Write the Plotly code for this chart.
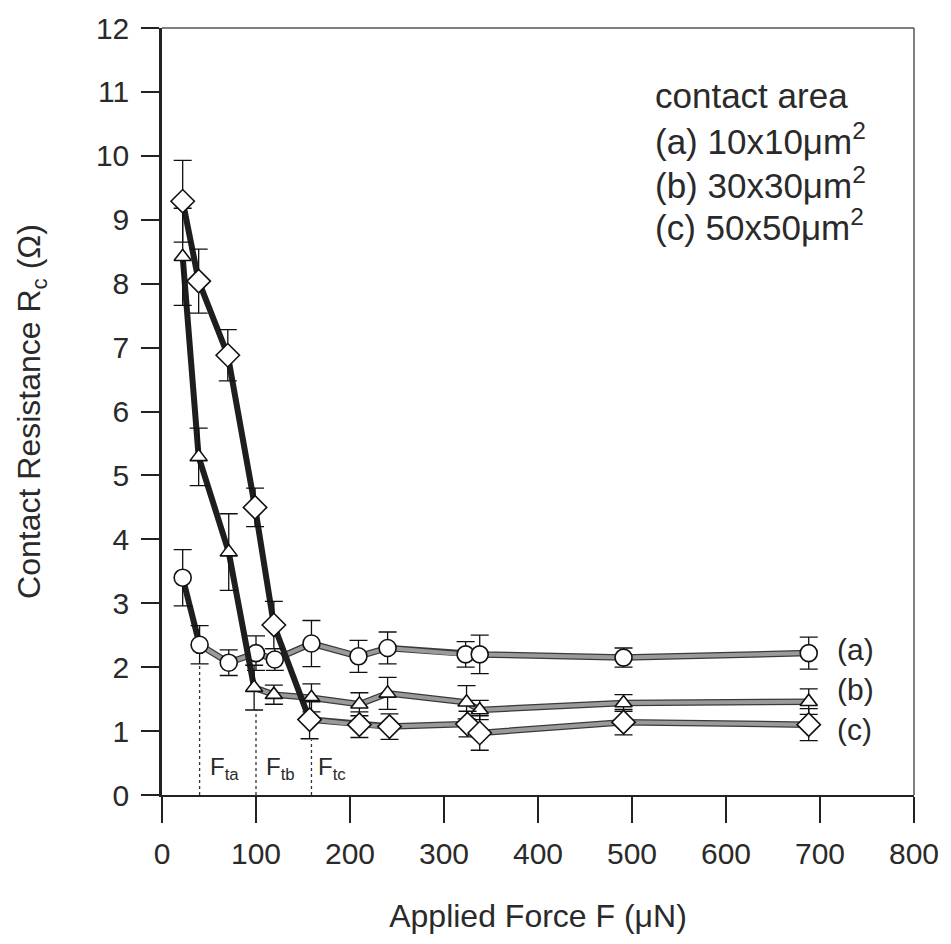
import plotly.graph_objects as go

# ---- data ----
# (a) 10x10 um^2  (circles)
xa = [22, 40, 71, 100, 120, 159, 209, 240, 323, 338, 491, 688]
ya = [3.40, 2.35, 2.07, 2.22, 2.12, 2.37, 2.17, 2.30, 2.20, 2.20, 2.15, 2.22]
ea = [0.44, 0.30, 0.20, 0.27, 0.17, 0.36, 0.25, 0.25, 0.20, 0.30, 0.15, 0.25]
# (b) 30x30 um^2  (triangles)
xb = [22, 39, 71, 98, 119, 159, 210, 240, 324, 338, 491, 688]
yb = [8.42, 5.29, 3.80, 1.68, 1.57, 1.52, 1.42, 1.59, 1.45, 1.33, 1.44, 1.46]
eb = [0.76, 0.45, 0.60, 0.35, 0.15, 0.22, 0.18, 0.25, 0.26, 0.15, 0.13, 0.20]
# (c) 50x50 um^2  (diamonds)
xc = [22, 39, 70, 99, 119, 157, 210, 242, 325, 338, 491, 688]
yc = [9.29, 8.04, 6.88, 4.50, 2.66, 1.18, 1.10, 1.07, 1.11, 0.97, 1.14, 1.10]
ec = [0.64, 0.50, 0.40, 0.30, 0.37, 0.30, 0.20, 0.20, 0.20, 0.27, 0.20, 0.25]
# index where the steep (dark) part ends for each series
knee_a, knee_b, knee_c = 1, 3, 5

# threshold forces F_t and heights of their dotted markers
ft_x = [40, 100, 159]
ft_top = [2.06, 1.33, 0.86]
ft_labels = ["F<sub>ta</sub>", "F<sub>tb</sub>", "F<sub>tc</sub>"]
ft_label_x = [66, 126, 181]

series_labels = ["(a)", "(b)", "(c)"]
series_label_y = [2.27, 1.65, 1.02]

legend_lines = ["contact area", "(a) 10x10\u03bcm<sup>2</sup>",
                "(b) 30x30\u03bcm<sup>2</sup>", "(c) 50x50\u03bcm<sup>2</sup>"]
legend_y = [10.94, 10.27, 9.58, 8.92]

x_ticks = [0, 100, 200, 300, 400, 500, 600, 700, 800]
y_ticks = list(range(0, 13))

FONT = "Liberation Sans, Arial, sans-serif"
TXT = "#2a2a2a"
DARK = "#1e1e1e"
GRAY = "#9a9a9a"

fig = go.Figure()

# dotted threshold lines
for fx, ft in zip(ft_x, ft_top):
    fig.add_trace(go.Scatter(x=[fx, fx], y=[0, ft], mode="lines",
                             line=dict(color="#333", width=1.3, dash="dot"),
                             showlegend=False, hoverinfo="skip"))

def add_series(x, y, e, knee, symbol, size):
    # gray part: dark edge under a gray core
    xs, ys = x[knee:], y[knee:]
    fig.add_trace(go.Scatter(x=xs, y=ys, mode="lines",
                             line=dict(color="#3a3a3a", width=6.5),
                             showlegend=False, hoverinfo="skip"))
    fig.add_trace(go.Scatter(x=xs, y=ys, mode="lines",
                             line=dict(color=GRAY, width=4),
                             showlegend=False, hoverinfo="skip"))
    # dark steep part
    fig.add_trace(go.Scatter(x=x[:knee + 1], y=y[:knee + 1], mode="lines",
                             line=dict(color=DARK, width=6),
                             showlegend=False, hoverinfo="skip"))
    # markers with error bars
    fig.add_trace(go.Scatter(x=x, y=y, mode="markers",
                             marker=dict(symbol=symbol, size=size, color="white",
                                         line=dict(color="#111", width=1.6)),
                             error_y=dict(type="data", array=e, visible=True,
                                          color="#111", thickness=1.3, width=9),
                             showlegend=False))

add_series(xa, ya, ea, knee_a, "circle", 17)
add_series(xb, yb, eb, knee_b, "triangle-up", 15)
add_series(xc, yc, ec, knee_c, "diamond", 18)

ann = []
for t, y in zip(legend_lines, legend_y):
    ann.append(dict(x=522, y=y, xref="x", yref="y", text=t, showarrow=False,
                    xanchor="left", yanchor="middle",
                    font=dict(family=FONT, size=35, color=TXT)))
for t, y in zip(series_labels, series_label_y):
    ann.append(dict(x=716, y=y, xref="x", yref="y", text=t, showarrow=False,
                    xanchor="left", yanchor="middle",
                    font=dict(family=FONT, size=30, color=TXT)))
for t, x in zip(ft_labels, ft_label_x):
    ann.append(dict(x=x, y=0.42, xref="x", yref="y", text=t, showarrow=False,
                    xanchor="center", yanchor="middle",
                    font=dict(family=FONT, size=24, color=TXT)))

fig.update_layout(
    width=951, height=944,
    margin=dict(l=162, r=37, t=28, b=149),
    paper_bgcolor="white", plot_bgcolor="white",
    annotations=ann,
    shapes=[
        dict(type="line", xref="paper", yref="paper", x0=0, x1=1, y0=1, y1=1,
             line=dict(color="#555", width=1.5)),
        dict(type="line", xref="paper", yref="paper", x0=1, x1=1, y0=0, y1=1,
             line=dict(color="#555", width=1.5)),
    ],
    xaxis=dict(range=[0, 800], tickvals=x_ticks, ticks="outside", ticklen=26,
               tickwidth=1.5, tickcolor="#222", showline=True, linecolor="#222",
               linewidth=2, showgrid=False, zeroline=False, automargin=False,
               ticklabelstandoff=5,
               tickfont=dict(family=FONT, size=30, color=TXT),
               title=dict(text="Applied Force F (\u03bcN)", standoff=36,
                          font=dict(family=FONT, size=32, color=TXT))),
    yaxis=dict(range=[0, 12], tickvals=y_ticks, ticks="outside", ticklen=18,
               tickwidth=1.5, tickcolor="#222", showline=True, linecolor="#222",
               linewidth=2.5, showgrid=False, zeroline=False, automargin=False,
               ticklabelstandoff=6,
               tickfont=dict(family=FONT, size=30, color=TXT),
               title=dict(text="Contact Resistance R<sub>c</sub> (\u03a9)", standoff=46,
                          font=dict(family=FONT, size=32, color=TXT))),
)

fig.write_html("out.html",
               config={"displayModeBar": False},
               post_script="document.body.style.margin='0';"
                           "document.body.style.overflow='hidden';")
